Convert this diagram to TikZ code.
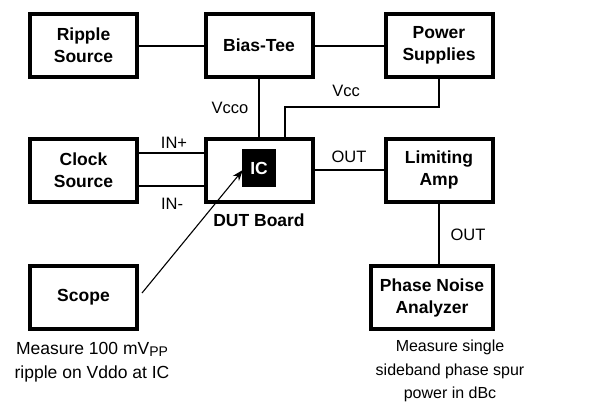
\documentclass[tikz,border=0pt]{standalone}
\usepackage{fontspec}
\setmainfont{Liberation Sans}
\usetikzlibrary{arrows.meta,calc}
\begin{document}
\begin{tikzpicture}[x=1pt,y=-1pt,
  blk/.style={draw,line width=4pt,minimum width=107pt,minimum height=63pt,align=center,font=\fontsize{17.5}{22}\selectfont\bfseries,inner sep=0pt},
  wire/.style={line width=2pt},
  lbl/.style={font=\fontsize{16.5}{19}\selectfont,inner sep=0pt},
  notel/.style={font=\fontsize{17.5}{24}\selectfont,align=center,inner sep=0pt},
  noter/.style={font=\fontsize{16}{23.5}\selectfont,align=center,inner sep=0pt}]
\useasboundingbox (0,0) rectangle (604,408);
\node[blk] (rip) at (83.5,45.5) {Ripple\\Source};
\node[blk] (bias) at (259,45.5) {Bias-Tee};
\node[blk] (pow) at (439,45.5) {Power\\Supplies};
\node[blk] (clk) at (83.5,170) {Clock\\Source};
\node[blk] (dut) at (259,170) {};
\node[blk] (lim) at (439,170) {Limiting\\Amp};
\node[blk] (scope) at (83.5,297.5) {Scope};
\node[blk,minimum width=122pt] (pna) at (432,297.5) {Phase Noise\\Analyzer};
\node[fill=black,text=white,minimum width=34pt,minimum height=38pt,inner sep=0pt,font=\fontsize{17.5}{20}\selectfont\bfseries] (ic) at (259,168) {IC};
\node[inner sep=0pt,font=\fontsize{17.5}{20}\selectfont\bfseries] (dutl) at (259,220) {DUT Board};
\draw[wire] (rip.east) -- (bias.west);
\draw[wire] (bias.east) -- (pow.west);
\draw[wire] (bias.south) -- (dut.north);
\coordinate (vccr) at (439,107);
\coordinate (vccl) at (285,107);
\draw[wire] (pow.south) -- (vccr) -- (vccl) -- (vccl |- dut.north);
\draw[wire] (clk.east |- 0,153) -- (dut.west |- 0,153);
\draw[wire] (clk.east |- 0,186) -- (dut.west |- 0,186);
\draw[wire] (dut.east) -- (lim.west);
\draw[wire] (lim.south) -- (pna.north -| lim.south);
\node[lbl] (vcco) at (230,108) {Vcco};
\node[lbl] (vcc) at (346,91) {Vcc};
\node[lbl] (inp) at (174,143) {IN+};
\node[lbl] (inm) at (172,204) {IN-};
\node[lbl] (out1) at (349,157) {OUT};
\node[lbl] (out2) at (468,235) {OUT};
\coordinate (arrs) at (142,293);
\draw[line width=1.1pt,-{Stealth[length=11pt,width=8pt]}] (arrs) -- ($(ic.west)+(1,2)$);
\node[notel] (n1) at (92,362) {Measure 100 mV\raisebox{-2.5pt}{\fontsize{14}{14}\selectfont PP}\\ripple on Vddo at IC};
\node[noter] (n2) at (450,371) {Measure single\\sideband phase spur\\power in dBc};
\end{tikzpicture}
\end{document}
